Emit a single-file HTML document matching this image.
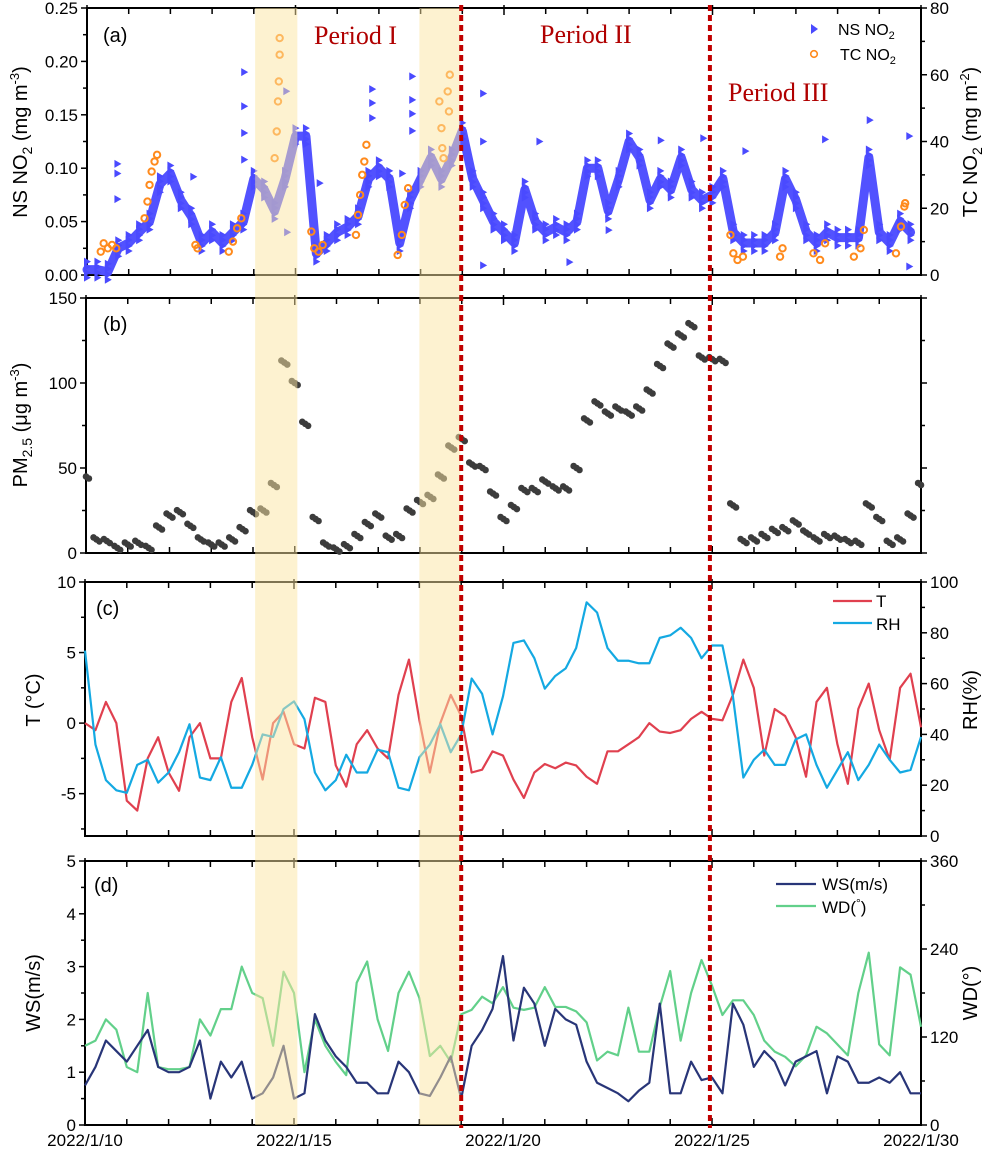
<!DOCTYPE html>
<html><head><meta charset="utf-8"><style>
html,body{margin:0;padding:0;background:#fff;}
svg{display:block;font-family:"Liberation Sans",sans-serif;}
</style></head><body>
<svg id="chart" width="992" height="1151" viewBox="0 0 992 1151" xmlns="http://www.w3.org/2000/svg"></svg>
<script>
// ---- data (day offset from 2022/1/10) ----
const dayStep = 0.25;
const xTickLabels = ["2022/1/10","2022/1/15","2022/1/20","2022/1/25","2022/1/30"];
const shadeBands = [[4.07,5.08],[8.0,8.98]];
const periodLines = [9.0,14.95];
const nsNO2 = [0.005,0.005,0.003,0.025,0.03,0.04,0.05,0.085,0.095,0.07,0.055,0.03,0.04,0.03,0.04,0.05,0.09,0.08,0.06,0.09,0.13,0.13,0.02,0.03,0.04,0.045,0.055,0.09,0.1,0.09,0.03,0.07,0.09,0.11,0.09,0.11,0.135,0.09,0.07,0.05,0.04,0.03,0.08,0.05,0.04,0.045,0.04,0.05,0.1,0.1,0.06,0.09,0.125,0.11,0.07,0.09,0.08,0.11,0.08,0.07,0.075,0.09,0.04,0.03,0.03,0.03,0.04,0.09,0.07,0.04,0.03,0.04,0.035,0.035,0.035,0.11,0.04,0.03,0.05,0.04];
const nsOutDay = [0.73,0.73,0.73,2.55,3.77,3.77,3.77,3.77,4.78,4.8,5.58,6.84,6.84,6.84,7.56,7.8,7.8,7.8,7.8,9.5,9.5,9.5,10.85,11.57,12.51,13.76,14.78,15.79,17.7,18.77,19.72,19.72];
const nsOutVal = [0.104,0.095,0.071,0.092,0.19,0.158,0.133,0.108,0.172,0.04,0.086,0.174,0.161,0.147,0.095,0.186,0.164,0.151,0.135,0.17,0.125,0.009,0.125,0.012,0.042,0.126,0.128,0.116,0.127,0.145,0.13,0.008];
const tcDay = [0.33,0.4,0.5,0.6,0.7,1.38,1.45,1.5,1.55,1.62,1.68,2.6,2.65,3.4,3.5,3.6,3.7,4.5,4.55,4.58,4.6,4.62,4.62,5.38,5.45,5.55,5.65,6.45,6.5,6.55,6.6,6.65,6.7,7.45,7.55,7.62,7.7,8.45,8.5,8.52,8.55,8.65,8.68,8.7,15.43,15.5,15.6,15.73,16.62,16.68,17.42,17.58,17.7,18.39,18.55,18.63,19.4,19.52,19.6,19.62];
const tcVal = [7,9.5,8,9,8,17,22,27,31,34,36,9,8,7,10,14,17,35,43,52,58,66,71,13,8,7,9,12,18,24,30,34,39,6,12,21,26,52,44,38,35,55,49,60,12,6.5,4.5,5.5,5.5,8,6.5,4.5,9.5,5.5,8,13.5,6.5,14.5,20.5,21.5];
const pm25 = [45,8,7,3,5,6,3,15,22,24,16,8,5,5,8,14,24,25,40,112,100,76,20,5,2,4,10,17,22,9,10,25,30,33,45,62,67,52,50,35,20,27,37,37,42,38,38,50,78,88,82,85,82,85,95,110,122,128,134,115,114,113,28,7,8,10,13,14,18,12,8,10,9,7,6,28,20,6,8,22,40];
const tempT = [0,-0.5,1.5,0,-5.5,-6.2,-2.5,-1,-3.5,-4.8,-1,0,-2.5,-2.5,1.5,3.2,-1,-4,0,0.8,-1.5,-1.8,1.8,1.5,-3,-4.5,-1.5,-0.5,-1.8,-2.5,2,4.5,0.2,-3.5,0,2,0.5,-3.5,-3.3,-2,-2.3,-4,-5.3,-3.5,-2.9,-3.2,-2.8,-3,-3.8,-4.3,-2,-2,-1.5,-1,0,-0.6,-0.7,-0.5,0.3,0.8,0.3,0.2,2,4.5,2.5,-2.3,1,0.5,-1,-3.8,1.5,2.5,-1.5,-4.3,1,2.8,-0.5,-2.6,2.5,3.5,-0.3];
const relHum = [73,36,22,18,17,28,30,21,25,33,44,23,22,31,19,19,28,40,39,50,53,46,25,18,22,32,25,25,34,33,19,18,31,36,44,33,40,62,56,40,55,76,77,70,58,63,66,74,92,88,74,69,69,68,68,78,79,82,78,70,75,75,55,23,30,34,28,28,38,40,28,19,26,33,22,28,36,30,25,26,39];
const windSpeed = [0.75,1.1,1.6,1.4,1.2,1.5,1.8,1.1,1.0,1.0,1.1,1.6,0.5,1.2,0.9,1.2,0.5,0.6,0.9,1.5,0.5,0.6,2.1,1.6,1.3,1.1,0.8,0.8,0.6,0.6,1.2,1.0,0.6,0.55,0.9,1.3,0.5,1.5,1.8,2.2,3.2,1.6,2.6,2.3,1.5,2.2,2.0,1.9,1.2,0.8,0.7,0.6,0.45,0.65,0.8,2.3,0.6,0.6,1.2,0.85,0.9,0.6,2.3,1.9,1.1,1.4,1.2,0.75,1.2,1.3,1.4,0.6,1.3,1.2,0.8,0.8,0.9,0.8,1.0,0.6,0.6];
const windDir = [108,115,144,130,79,72,180,79,76,76,79,144,122,158,158,216,180,173,108,209,180,72,144,108,86,68,194,223,144,101,180,209,173,94,108,86,151,157,175,166,188,160,157,160,188,161,161,155,140,88,100,95,160,100,100,161,210,115,180,225,190,150,170,170,150,115,100,93,80,95,134,125,110,95,180,235,110,95,215,205,134];

// ---- layout ----
const NS="http://www.w3.org/2000/svg";
const svg=document.getElementById('chart');
const P={
 a:{x0:87,x1:921,y0:8,y1:275},
 b:{x0:86,x1:921,y0:298,y1:553},
 c:{x0:85,x1:921,y0:582,y1:836},
 d:{x0:85,x1:921,y0:861,y1:1125}
};
function X(p,d){return p.x0+d*(p.x1-p.x0)/20;}
function Y(p,v,lo,hi){return p.y1-(v-lo)/(hi-lo)*(p.y1-p.y0);}
function el(tag,attrs,parent){const e=document.createElementNS(NS,tag);for(const k in attrs)e.setAttribute(k,attrs[k]);(parent||svg).appendChild(e);return e;}
function txt(s,x,y,attrs,parent){const t=el('text',Object.assign({x:x,y:y,'font-size':17,fill:'#000'},attrs||{}),parent);t.textContent=s;return t;}

function frame(p,name,leftTicks,rightTicks){
 const g=el('g',{});
 
 
 el('rect',{x:p.x0,y:p.y0,width:p.x1-p.x0,height:p.y1-p.y0,fill:'none',stroke:'#000','stroke-width':2},g);
 for(let d=0;d<=20;d++){
  const x=X(p,d);const L=d%5===0?7:6;
  el('line',{x1:x,y1:p.y1,x2:x,y2:p.y1-L,stroke:'#000','stroke-width':1.5},g);
  el('line',{x1:x,y1:p.y0,x2:x,y2:p.y0+L,stroke:'#000','stroke-width':1.5},g);
  if(d%5===0){el('line',{x1:x,y1:p.y0,x2:x,y2:p.y0-3,stroke:'#000','stroke-width':1.5},g);}
 }
 leftTicks.forEach(t=>{const y=Y(p,t.v,t.lo,t.hi);el('line',{x1:p.x0,y1:y,x2:p.x0-(t.major?6:4),y2:y,stroke:'#000','stroke-width':1.5},g);
  if(t.major){const s=txt(t.label,p.x0-9,y+6,{'text-anchor':'end'},g);}});
 rightTicks.forEach(t=>{const y=Y(p,t.v,t.lo,t.hi);el('line',{x1:p.x1,y1:y,x2:p.x1+(t.major?6:4),y2:y,stroke:'#000','stroke-width':1.5},g);
  if(t.major&&t.label!==''){const s=txt(t.label,p.x1+9,y+6,{},g);}});
}
function ticks(lo,hi,step,majEvery,fmt){const r=[];let i=0;for(let v=lo;v<=hi+1e-9;v+=step,i++){r.push({v:v,lo:lo,hi:hi,major:i%majEvery===0,label:fmt?fmt(v):''});}return r;}

// panel a
const pa=P.a;
frame(pa,'panel-a',ticks(0,0.25,0.025,2,v=>v.toFixed(2)),ticks(0,80,10,2,v=>String(Math.round(v))));
(function(){
 const g=el('g',{});
 
 
 let pts=nsNO2.map((v,i)=>X(pa,i*dayStep)+','+Y(pa,v,0,0.25)).join(' ');
 el('polyline',{points:pts,fill:'none',stroke:'#5252ff','stroke-width':9,'stroke-linejoin':'round','stroke-linecap':'round'},g);
 nsNO2.forEach((v,i)=>{const x=X(pa,i*dayStep),y=Y(pa,v,0,0.25);
  [-8,-3,3,8].forEach(o=>{const m=el('path',{d:`M${x-3},${y+o-4}L${x+4},${y+o}L${x-3},${y+o+4}Z`,fill:'#4a4aff'},g);
  });});
 nsOutDay.forEach((d,i)=>{const x=X(pa,d),y=Y(pa,nsOutVal[i],0,0.25);
  const m=el('path',{d:`M${x-3},${y-4}L${x+4},${y}L${x-3},${y+4}Z`,fill:'#4a4aff'},g);
  });
 tcDay.forEach((d,i)=>{const x=X(pa,d),y=Y(pa,tcVal[i],0,80);
  const c=el('circle',{cx:x,cy:y,r:3.2,fill:'none',stroke:'#ff8a1c','stroke-width':2},g);
  });
})();
// panel b
const pb=P.b;
frame(pb,'panel-b',ticks(0,150,25,2,v=>String(v)),ticks(0,150,25,2,v=>''));
(function(){
 const g=el('g',{});
 
 
 pm25.forEach((v,i)=>{const d=i*dayStep;
  [-0.07,0,0.07].forEach((o,k)=>{if(d+o<0||d+o>20)return;const c=el('circle',{cx:X(pb,d+o),cy:Y(pb,v,0,150)+(k-1)*2,r:3.3,fill:'#3c3c3c'},g);
  });});
})();
// panel c
const pc=P.c;
frame(pc,'panel-c',ticks(-7.5,10,2.5,2,v=>String(v)).map(t=>{t.major=[10,5,0,-5].includes(t.v);t.lo=-8;return t;}),ticks(0,100,10,2,v=>String(v)));
function line(p,arr,lo,hi,color,name,w){const pts=arr.map((v,i)=>X(p,i*dayStep)+','+Y(p,v,lo,hi)).join(' ');
 const l=el('polyline',{points:pts,fill:'none',stroke:color,'stroke-width':w||2.2,'stroke-linejoin':'round'});return l;}
line(pc,tempT,-8,10,'#e0404f','temperature-line');
line(pc,relHum,0,100,'#14a9e2','rh-line');
// panel d
const pd=P.d;
frame(pd,'panel-d',ticks(0,5,0.5,2,v=>String(Math.round(v))),ticks(0,360,60,2,v=>String(v)));
line(pd,windDir,0,360,'#62d08a','wd-line');
line(pd,windSpeed,0,5,'#283578','ws-line');

// bands overlay + period lines
shadeBands.forEach(b=>{const x0=X(pc,b[0]),x1=X(pc,b[1]);
 const r=el('rect',{x:x0,y:8,width:x1-x0,height:1125-8,fill:'#fbe5a1',opacity:0.5});
 });
periodLines.forEach(d=>{const x=X(pc,d);
 const l=el('line',{x1:x,y1:5,x2:x,y2:1128,stroke:'#c00000','stroke-width':4,'stroke-dasharray':'6 4'});
 });

// x labels
xTickLabels.forEach((s,i)=>{const t=txt(s,X(pd,i*5),1146,{'text-anchor':'middle','font-size':17});});
</script>
<svg width="992" height="1151" style="position:absolute;left:0;top:0" font-family="Liberation Sans, sans-serif">
 <text x="103" y="42" font-size="20">(a)</text>
 <text x="103" y="331" font-size="20">(b)</text>
 <text x="96" y="615" font-size="20">(c)</text>
 <text x="94" y="892" font-size="20">(d)</text>
 <g font-family="Liberation Serif, serif" fill="#b00000" font-size="26">
  <text x="314" y="44">Period I</text>
  <text x="540" y="43">Period II</text>
  <text x="728" y="101">Period III</text>
 </g>
 <g font-size="16">
  <path d="M811,24 L818,29 L811,34 Z" fill="#4a4aff"/>
  <text x="838" y="35">NS NO<tspan font-size="11" dy="4">2</tspan></text>
  <circle cx="814" cy="54" r="3.3" fill="none" stroke="#ff8a1c" stroke-width="1.6"/>
  <text x="840" y="60">TC NO<tspan font-size="11" dy="4">2</tspan></text>
 </g>
 <g font-size="17">
  <line x1="833" y1="601" x2="872" y2="601" stroke="#e0404f" stroke-width="2.2"/>
  <text x="876" y="607">T</text>
  <line x1="833" y1="623" x2="872" y2="623" stroke="#14a9e2" stroke-width="2.2"/>
  <text x="876" y="630">RH</text>
 </g>
 <g font-size="17">
  <line x1="776" y1="884" x2="816" y2="884" stroke="#283578" stroke-width="2.2"/>
  <text x="822" y="890">WS(m/s)</text>
  <line x1="776" y1="906" x2="816" y2="906" stroke="#62d08a" stroke-width="2.2"/>
  <text x="822" y="913">WD(<tspan font-size="12" dy="-6">°</tspan><tspan dy="6">)</tspan></text>
 </g>
 <text transform="translate(27,142) rotate(-90)" text-anchor="middle" font-size="20">NS NO<tspan font-size="14" dy="5">2</tspan><tspan dy="-5"> (mg m</tspan><tspan font-size="13" dy="-8">-3</tspan><tspan dy="8">)</tspan></text>
 <text transform="translate(977,142) rotate(-90)" text-anchor="middle" font-size="20">TC NO<tspan font-size="14" dy="5">2</tspan><tspan dy="-5"> (mg m</tspan><tspan font-size="13" dy="-8">-2</tspan><tspan dy="8">)</tspan></text>
 <text transform="translate(27,425) rotate(-90)" text-anchor="middle" font-size="20">PM<tspan font-size="14" dy="5">2.5</tspan><tspan dy="-5"> (μg m</tspan><tspan font-size="13" dy="-8">-3</tspan><tspan dy="8">)</tspan></text>
 <text transform="translate(40,700) rotate(-90)" text-anchor="middle" font-size="20">T (°C)</text>
 <text transform="translate(977,700) rotate(-90)" text-anchor="middle" font-size="20">RH(%)</text>
 <text transform="translate(40,993) rotate(-90)" text-anchor="middle" font-size="20">WS(m/s)</text>
 <text transform="translate(977,993) rotate(-90)" text-anchor="middle" font-size="20">WD(°)</text>
</svg>
</body></html>
